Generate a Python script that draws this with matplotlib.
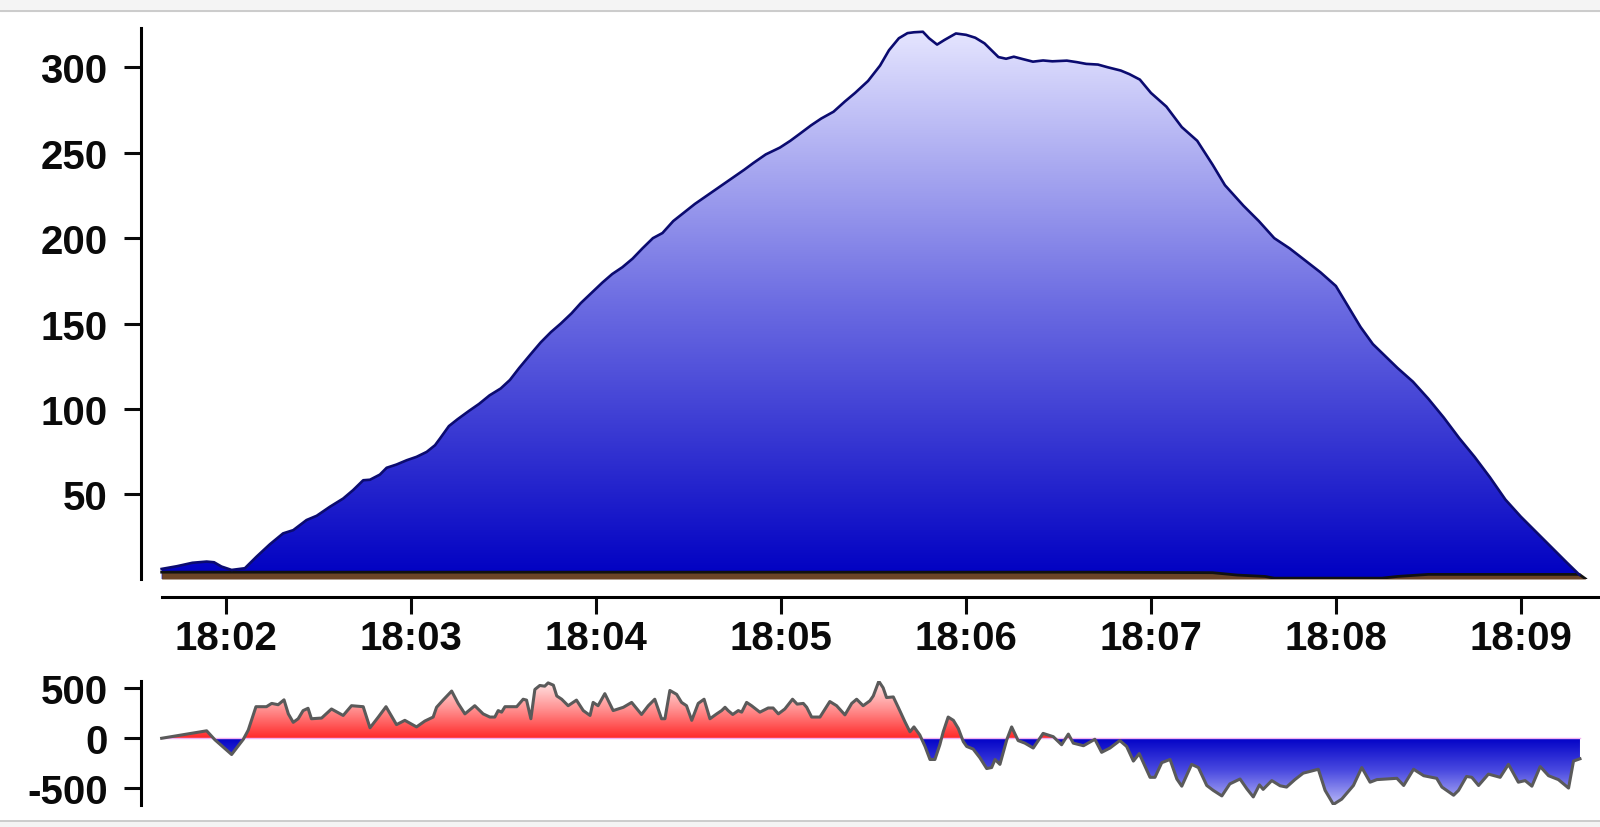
import numpy as np
import matplotlib
matplotlib.use('Agg')
import matplotlib.pyplot as plt
from matplotlib.colors import LinearSegmentedColormap
from matplotlib.path import Path
from matplotlib.ticker import FixedLocator, FuncFormatter
from matplotlib.patches import Rectangle
from matplotlib.lines import Line2D

plt.rcParams['font.family'] = ['Liberation Sans', 'DejaVu Sans']
plt.rcParams['font.weight'] = 'bold'
plt.rcParams['axes.unicode_minus'] = False

# all times are seconds after 18:00:00
level_t = [99, 104, 109, 113.6, 116, 118.4, 121.7, 126, 129.8, 134.1, 138.4, 141.7,
           146, 149.3, 153.6, 157.9, 161.1, 164.4, 166.6, 169.8, 172, 175.2, 178.5,
           181.7, 185, 187.7, 189.3, 192.2, 195, 198.8, 202, 205.4, 209, 212, 215,
           218.7, 222, 225.3, 228.5, 232, 235, 238.5, 242, 245.2, 248.5, 251.8, 255,
           258.4, 261.5, 265, 268.5, 272, 276, 280, 284, 288, 291, 295, 299.6, 303,
           306, 309.7, 313, 317, 320.7, 324, 328.2, 332.1, 335, 338.2, 341, 343.1,
           346, 348, 350.6, 353, 356.7, 360, 363, 366, 370.5, 373, 375.5, 378, 381.7,
           385, 388, 392.7, 396, 399, 402.8, 406, 410.2, 413, 416.4, 420, 425, 430,
           435, 440, 444, 450, 455, 460, 465, 470, 475, 480, 484, 488, 492, 496, 500,
           505, 510, 515, 520, 525, 530, 535, 540, 545, 550, 555, 559]
level_v = [6.4, 8, 10, 10.7, 10.3, 7.8, 5.8, 6.8, 13.6, 20.8, 27.2, 29.1,
           35, 37.5, 42.8, 47.6, 52.5, 58.3, 58.6, 61.6, 65.6, 67.5, 70,
           72, 74.9, 78.8, 82.7, 90, 94, 99, 103, 108, 112, 117, 124,
           132, 139, 145, 150, 156, 162, 168, 174, 179, 183, 188, 194,
           200, 203, 210, 215, 220, 225, 230, 235, 240, 244, 249, 253, 257,
           261, 266, 270, 274, 280, 285, 292, 301, 310, 317, 320, 320.5,
           320.8, 317, 313.3, 316, 319.8, 319, 317.3, 314, 306, 305, 306.2, 305, 303.3,
           304, 303.5, 303.9, 303, 302, 301.6, 300, 298.1, 296, 292.8, 285, 277, 265,
           257, 243, 231, 219, 210, 200, 194, 187, 180, 172, 160, 148, 138, 131, 124,
           116, 106, 95, 83, 72, 60, 47, 37, 28, 19, 10, 3]

base_t = [99, 400, 440, 448, 457, 460, 495, 500, 510, 559, 561]
base_v = [4.5, 4.5, 4.2, 2.8, 2.0, 1.0, 1.0, 2.0, 3.2, 3.2, 0.6]

delta_t = [99.0, 113.6, 116.3, 121.7, 125.5, 127.1, 129.6, 133.0, 134.7, 136.8, 138.7,
           140.1, 141.7, 143.3, 144.9, 146.5, 147.6, 150.9, 154.1, 157.9, 160.6, 164.4,
           166.6, 169.3, 171.8, 175.2, 177.9, 181.7, 184.4, 187.1, 188.2, 190.3, 193.1,
           195.2, 197.4, 200.6, 203.3, 205.5, 207.1, 208.2, 209.3, 210.4, 214.2, 216.3,
           217.4, 218.8, 220.1, 221.7, 223.3, 224.4, 226.1, 227.2, 228.8, 230.9, 233.6,
           235.8, 238.0, 239.0, 240.6, 242.8, 245.5, 248.8, 251.5, 254.7, 256.9, 259.0,
           261.2, 262.3, 263.9, 266.1, 267.7, 269.3, 271.0, 273.1, 275.0, 276.9, 279.1,
           280.7, 281.8, 282.8, 284.3, 286.1, 287.2, 288.8, 290.4, 293.1, 295.8, 297.4,
           299.1, 301.2, 303.7, 305.2, 307.2, 308.3, 309.9, 312.6, 315.8, 318.0, 320.7,
           322.9, 324.5, 326.6, 328.8, 329.9, 331.7, 333.1, 334.2, 336.4, 338.0, 340.2,
           341.8, 343.1, 345.0, 346.7, 348.3, 349.9, 351.5, 352.6, 354.2, 355.9, 357.5,
           359.1, 360.2, 362.3, 364.5, 366.7, 368.3, 369.4, 371.0, 373.2, 374.8, 376.9,
           379.1, 381.8, 385.0, 388.3, 391.0, 393.2, 394.8, 398.1, 401.8, 404.0, 406.7,
           409.9, 412.1, 414.3, 416.2, 419.7, 421.3, 423.5, 426.2, 428.4, 430.0, 433.2,
           435.4, 438.1, 440.2, 443.0, 445.6, 448.9, 451.1, 453.2, 455.2, 456.4, 459.2,
           461.9, 464.0, 466.7, 469.4, 471.1, 474.3, 476.5, 479.2, 481.9, 485.7, 488.4,
           491.1, 493.3, 499.8, 502.0, 505.2, 508.5, 512.7, 514.4, 518.2, 519.8, 522.4,
           524.1, 526.3, 529.5, 533.3, 536.0, 539.2, 541.4, 543.6, 546.3, 549.0, 552.2,
           555.5, 557.1, 559.2]
delta_v = [0, 75, -16, -163, -10, 82, 317, 317, 350, 337, 386,
           245, 160, 196, 278, 301, 196, 203, 294, 229, 327, 317,
           105, 213, 317, 137, 180, 114, 173, 213, 311, 383, 474,
           350, 245, 327, 245, 213, 213, 278, 262, 317, 317, 392,
           383, 196, 490, 530, 523, 556, 533, 425, 392, 327, 383,
           278, 229, 360, 327, 448, 278, 311, 360, 239, 327, 392,
           196, 196, 480, 441, 360, 327, 180, 350, 392, 196, 245,
           278, 311, 278, 239, 278, 262, 360, 327, 262, 304, 304,
           245, 294, 392, 343, 350, 311, 213, 213, 369, 327, 235,
           350, 392, 327, 376, 425, 572, 507, 409, 415, 311, 164,
           65, 114, 33, -82, -213, -213, -65, 65, 213, 180, 98,
           -33, -82, -108, -196, -304, -294, -213, -262, -16, 114, -23,
           -49, -98, 49, 16, -65, 42, -49, -75, -10, -141, -98,
           -23, -82, -229, -154, -392, -392, -245, -213, -409, -481, -262,
           -294, -474, -523, -579, -458, -409, -507, -589, -468, -513, -425,
           -477, -490, -415, -350, -337, -311, -523, -664, -611, -474, -294,
           -441, -415, -402, -474, -311, -376, -402, -490, -572, -523, -383,
           -392, -474, -360, -392, -262, -441, -425, -481, -284, -376, -415,
           -500, -229, -206]

x_ticks = [120, 180, 240, 300, 360, 420, 480, 540]
top_yticks = [50, 100, 150, 200, 250, 300]
bottom_yticks = [-500, 0, 500]

xlim = (92.3, 565.7)
top_ylim = (0.5, 323)
bottom_ylim = (-670, 575)


def hhmm(x, pos):
    s = int(round(x))
    return f'{18 + s // 3600}:{(s % 3600) // 60:02d}'


def gradient_fill(ax, coll, colors, y0, y1, zorder):
    path = Path.make_compound_path(*coll.get_paths())
    coll.remove()
    cmap = LinearSegmentedColormap.from_list('g', colors)
    grad = np.linspace(0, 1, 256).reshape(-1, 1)
    x0, x1 = ax.get_xlim()
    im = ax.imshow(grad, extent=[x0, x1, y0, y1], origin='lower', aspect='auto',
                   cmap=cmap, zorder=zorder, interpolation='bilinear')
    im.set_clip_path(path, ax.transData)
    return im


fig = plt.figure(figsize=(16, 8.28), dpi=100)
W, H = 1600, 828

# browser-ish frame strips
fig.patches.append(Rectangle((0, (H - 12) / H), 1, 12 / H, transform=fig.transFigure,
                             color='#f4f4f4', zorder=0))
fig.patches.append(Rectangle((0, 0), 1, 6 / H, transform=fig.transFigure,
                             color='#f4f4f4', zorder=0))
fig.lines.append(Line2D([0, 1], [(H - 12) / H] * 2, transform=fig.transFigure,
                        color='#c4c4c4', lw=1.2))
fig.lines.append(Line2D([0, 1], [6 / H] * 2, transform=fig.transFigure,
                        color='#c4c4c4', lw=1.2))

# ---- top: level chart
ax = fig.add_axes([141 / W, 248 / H, 1459 / W, 551 / H])
ax.set_xlim(*xlim)
ax.set_ylim(*top_ylim)
coll = ax.fill_between(level_t, level_v, top_ylim[0])
gradient_fill(ax, coll, ['#0000c2', '#6c6ce2', '#e6e6ff'], top_ylim[0], top_ylim[1], 1)
ax.fill_between(base_t, base_v, top_ylim[0], color='#6b4427', lw=0, zorder=2)
ax.plot(base_t, base_v, color='#111111', lw=2.0, zorder=3)
ax.plot(level_t, level_v, color='#0b0b70', lw=1.9, zorder=4)
ax.set_xlim(*xlim)
ax.set_ylim(*top_ylim)

for s in ['top', 'right']:
    ax.spines[s].set_visible(False)
ax.spines['left'].set_linewidth(2.2)
ax.spines['bottom'].set_linewidth(2.2)
ax.spines['bottom'].set_position(('outward', 13))
ax.spines['bottom'].set_bounds(level_t[0], xlim[1])
ax.xaxis.set_major_locator(FixedLocator(x_ticks))
ax.xaxis.set_major_formatter(FuncFormatter(hhmm))
ax.yaxis.set_major_locator(FixedLocator(top_yticks))
ax.tick_params(axis='both', length=12, width=2.2, labelsize=29, colors='#0a0a0a')
ax.tick_params(axis='y', pad=12)
ax.tick_params(axis='x', pad=4)

# ---- bottom: delta chart
ax2 = fig.add_axes([141 / W, 22 / H, 1459 / W, 124 / H])
ax2.set_xlim(*xlim)
ax2.set_ylim(*bottom_ylim)
dt = np.array(delta_t)
dv = np.array(delta_v)
pos = ax2.fill_between(dt, dv, 0, where=dv >= 0, interpolate=True)
gradient_fill(ax2, pos, ['#ff2a2a', '#ff8f8f', '#ffe8e8'], 0, max(delta_v), 1)
neg = ax2.fill_between(dt, dv, 0, where=dv <= 0, interpolate=True)
gradient_fill(ax2, neg, ['#b6b6f6', '#4a4ae0', '#0000c6'], min(delta_v), 0, 1)
ax2.plot([dt[0], dt[-1]], [0, 0], color='#f2b0f2', lw=1.0, zorder=2)
ax2.plot(dt, dv, color='#5a5a5a', lw=2.2, zorder=3)
ax2.set_xlim(*xlim)
ax2.set_ylim(*bottom_ylim)

for s in ['top', 'right', 'bottom']:
    ax2.spines[s].set_visible(False)
ax2.spines['left'].set_linewidth(2.2)
ax2.set_xticks([])
ax2.yaxis.set_major_locator(FixedLocator(bottom_yticks))
ax2.tick_params(axis='y', length=12, width=2.2, labelsize=29, pad=12, colors='#0a0a0a')

fig.savefig('out.png', dpi=100, facecolor='white')
